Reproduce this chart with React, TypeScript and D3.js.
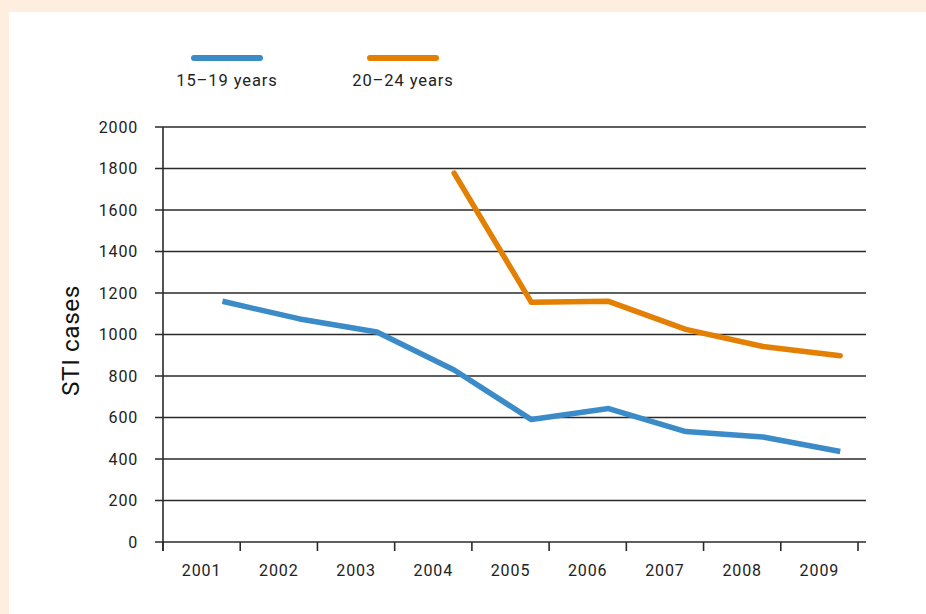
import * as d3 from "d3";

const years = ["2001", "2002", "2003", "2004", "2005", "2006", "2007", "2008", "2009"];
const teens = [1160, 1075, 1012, 829, 590, 643, 532, 506, 436];
const twenties: (number | null)[] = [null, null, null, 1778, 1155, 1160, 1025, 942, 898];
const yTicks = [0, 200, 400, 600, 800, 1000, 1200, 1400, 1600, 1800, 2000];
const seriesNames = ["15–19 years", "20–24 years"];

const BLUE = "#3b8bc9";
const ORANGE = "#e37f03";
const FONT = "Roboto, 'DejaVu Sans', sans-serif";

export default function App() {
  const W = 926;
  const H = 614;
  const m = { left: 163, right: 858, top: 127, bottom: 542 };

  const x = d3.scaleBand<string>().domain(years).range([m.left, m.right]).padding(0);
  const px = (yr: string) => x(yr)! + x.bandwidth() * 0.77;
  const y = d3.scaleLinear().domain([0, 2000]).range([m.bottom, m.top]);

  const line = d3
    .line<number | null>()
    .defined((d) => d != null)
    .x((_, i) => px(years[i]))
    .y((d) => y(d as number));

  const tickEdges = [...years.map((yr) => x(yr)!), m.right];

  return (
    <svg width={W} height={H} style={{ position: "absolute", left: 0, top: 0 }} fontFamily={FONT}>
      <rect width={W} height={H} fill="#fdeee0" />
      <rect x={9} y={12} width={W - 9} height={H - 12} fill="#fff" />

      {/* legend */}
      {seriesNames.map((name, i) => {
        const cx = 227 + i * 176;
        return (
          <g key={name}>
            <line x1={cx - 33} x2={cx + 33} y1={58} y2={58} stroke={i ? ORANGE : BLUE} strokeWidth={6} strokeLinecap="round" />
            <text x={cx} y={86} textAnchor="middle" fontSize={16.5} fill="#222" letterSpacing={0.9}>
              {name}
            </text>
          </g>
        );
      })}

      {/* grid */}
      {yTicks.map((t) => (
        <g key={t}>
          <line x1={m.left - 8} x2={866} y1={y(t)} y2={y(t)} stroke="#2a2a2a" strokeWidth={1.6} />
          <text x={138} y={y(t)} dy="0.35em" textAnchor="end" fontSize={16} fill="#222" letterSpacing={0.8}>
            {t}
          </text>
        </g>
      ))}
      <line x1={m.left} x2={m.left} y1={m.top} y2={m.bottom + 9} stroke="#2a2a2a" strokeWidth={1.6} />
      {tickEdges.map((e, i) => (
        <line key={i} x1={e} x2={e} y1={m.bottom} y2={m.bottom + 9} stroke="#2a2a2a" strokeWidth={1.6} />
      ))}
      {years.map((yr) => (
        <text key={yr} x={x(yr)! + x.bandwidth() / 2} y={576} textAnchor="middle" fontSize={16} fill="#222" letterSpacing={0.9}>
          {yr}
        </text>
      ))}

      <text transform={`translate(79,${(m.top + m.bottom) / 2 + 6}) rotate(-90)`} textAnchor="middle" fontSize={24.5} fill="#111" letterSpacing={0.5}>
        STI cases
      </text>

      <path d={line(teens)!} fill="none" stroke={BLUE} strokeWidth={5.5} strokeLinejoin="round" />
      <path d={line(twenties)!} fill="none" stroke={ORANGE} strokeWidth={5.5} strokeLinejoin="round" strokeLinecap="round" />
    </svg>
  );
}
